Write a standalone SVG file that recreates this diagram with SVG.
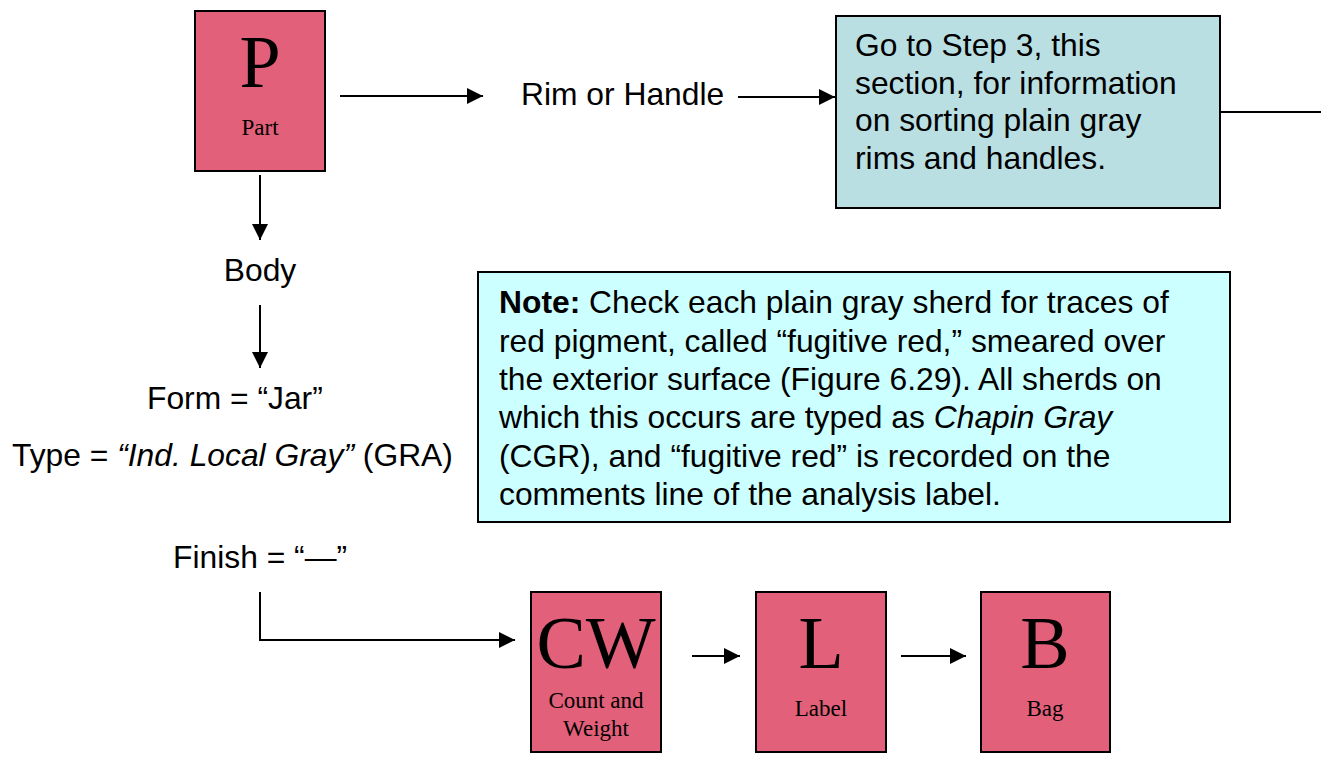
<svg xmlns="http://www.w3.org/2000/svg" width="1321" height="764" viewBox="0 0 1321 764">
<style>
.box{fill:#E2607A;stroke:#000;stroke-width:2}
.big{font-family:"Liberation Serif",serif;font-size:74px;text-anchor:middle;fill:#000}
.small{font-family:"Liberation Serif",serif;font-size:23px;text-anchor:middle;fill:#000}
.t{font-family:"Liberation Sans",Arial,sans-serif;font-size:31.8px;fill:#000}
.c{stroke:#000;stroke-width:2;fill:none}
</style>
<defs>
<marker id="ah" viewBox="0 0 16 16" refX="16" refY="8" markerWidth="16" markerHeight="16" markerUnits="userSpaceOnUse" orient="auto">
<path d="M0,0 L16,8 L0,16 Z" fill="#000"/>
</marker>
</defs>
<rect width="1321" height="764" fill="#fff"/>
<g id="connectors">
<line class="c" x1="340" y1="96" x2="483" y2="96" marker-end="url(#ah)"/>
<line class="c" x1="738" y1="97" x2="835" y2="97" marker-end="url(#ah)"/>
<line class="c" x1="1220" y1="112" x2="1321" y2="112"/>
<line class="c" x1="260" y1="175" x2="260" y2="240" marker-end="url(#ah)"/>
<line class="c" x1="260" y1="305" x2="260" y2="368" marker-end="url(#ah)"/>
<polyline class="c" points="260,592 260,640 515,640" marker-end="url(#ah)"/>
<line class="c" x1="692" y1="656" x2="740" y2="656" marker-end="url(#ah)"/>
<line class="c" x1="901" y1="656" x2="966" y2="656" marker-end="url(#ah)"/>
</g>
<g id="node-part">
<rect class="box" x="195" y="11" width="130" height="160"/>
<text class="big" x="260" y="87">P</text>
<text class="small" x="260" y="135">Part</text>
</g>
<g id="node-rim">
<text class="t" x="521" y="105">Rim or Handle</text>
</g>
<g id="node-step3">
<rect x="836" y="16" width="384" height="192" fill="#B9DFE3" stroke="#000" stroke-width="2"/>
<text class="t" x="855" y="56">Go to Step 3, this</text>
<text class="t" x="855" y="94">section, for information</text>
<text class="t" x="855" y="131">on sorting plain gray</text>
<text class="t" x="855" y="169">rims and handles.</text>
</g>
<g id="node-body">
<text class="t" x="260" y="281" text-anchor="middle">Body</text>
</g>
<g id="node-form">
<text class="t" x="147" y="409">Form = “Jar”</text>
<text class="t" x="12" y="466">Type = <tspan font-style="italic">“Ind. Local Gray”</tspan> (GRA)</text>
</g>
<g id="node-note">
<rect x="478" y="272" width="752" height="250" fill="#CCFFFF" stroke="#000" stroke-width="2"/>
<text class="t" x="499" y="313"><tspan font-weight="bold">Note:</tspan> Check each plain gray sherd for traces of</text>
<text class="t" x="499" y="352">red pigment, called “fugitive red,” smeared over</text>
<text class="t" x="499" y="390">the exterior surface (Figure 6.29). All sherds on</text>
<text class="t" x="499" y="428">which this occurs are typed as <tspan font-style="italic">Chapin Gray</tspan></text>
<text class="t" x="499" y="467">(CGR), and “fugitive red” is recorded on the</text>
<text class="t" x="499" y="505">comments line of the analysis label.</text>
</g>
<g id="node-finish">
<text class="t" x="173" y="568">Finish = “—”</text>
</g>
<g id="node-cw">
<rect class="box" x="531" y="592" width="130" height="160"/>
<text class="big" x="596" y="668">CW</text>
<text class="small" x="596" y="708">Count and</text>
<text class="small" x="596" y="736">Weight</text>
</g>
<g id="node-label">
<rect class="box" x="756" y="592" width="130" height="160"/>
<text class="big" x="821" y="668">L</text>
<text class="small" x="821" y="716">Label</text>
</g>
<g id="node-bag">
<rect class="box" x="981" y="592" width="129" height="160"/>
<text class="big" x="1045" y="668">B</text>
<text class="small" x="1045" y="716">Bag</text>
</g>
</svg>
